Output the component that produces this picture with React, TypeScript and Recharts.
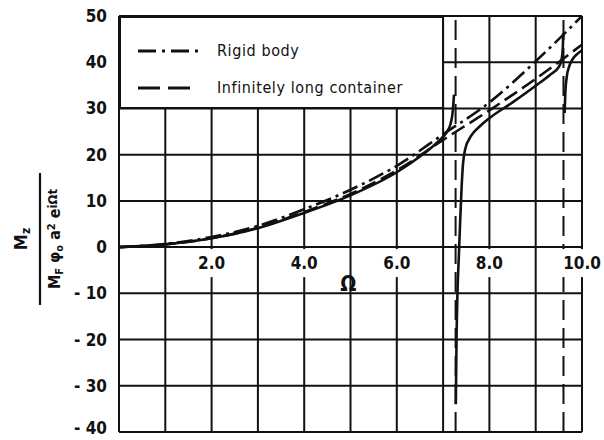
import { LineChart, Line, XAxis, YAxis, CartesianGrid, ReferenceLine, ReferenceDot, Legend } from 'recharts'

// values (Omega on x, moment ratio on y)
const rigidBody = [
  { x: 0, y: 0 }, { x: 1, y: 0.7 }, { x: 2, y: 2.2 }, { x: 3, y: 4.6 }, { x: 4, y: 8.2 },
  { x: 5, y: 12.4 }, { x: 6, y: 17.6 }, { x: 7, y: 24.4 }, { x: 8, y: 31.3 }, { x: 9, y: 40.2 },
  { x: 10, y: 50 },
]

const infiniteContainer = [
  { x: 0, y: 0 }, { x: 1, y: 0.6 }, { x: 2, y: 1.9 }, { x: 3, y: 4.2 }, { x: 4, y: 7.6 },
  { x: 5, y: 11.5 }, { x: 6, y: 16.6 }, { x: 7, y: 23.2 }, { x: 8, y: 29.6 }, { x: 9, y: 36.4 },
  { x: 10, y: 43.8 },
]

// solid curve, split at the two resonances
const finiteBranch1 = [
  { x: 0, y: 0 }, { x: 1, y: 0.6 }, { x: 2, y: 1.9 }, { x: 3, y: 4.1 }, { x: 4, y: 7.4 },
  { x: 5, y: 11.2 }, { x: 6, y: 16.2 }, { x: 6.5, y: 19.6 }, { x: 6.8, y: 22 }, { x: 7, y: 23.9 },
  { x: 7.1, y: 25.2 }, { x: 7.17, y: 27 }, { x: 7.21, y: 29.5 }, { x: 7.235, y: 33 },
]

const finiteBranch2 = [
  { x: 7.275, y: -34 }, { x: 7.29, y: -20 }, { x: 7.31, y: -10 }, { x: 7.34, y: -2 },
  { x: 7.37, y: 6 }, { x: 7.4, y: 13 }, { x: 7.43, y: 18 }, { x: 7.48, y: 21.3 },
  { x: 7.6, y: 24 }, { x: 7.8, y: 26.2 }, { x: 8, y: 27.9 }, { x: 8.5, y: 31.3 },
  { x: 9, y: 34.9 }, { x: 9.3, y: 37.2 }, { x: 9.5, y: 39 }, { x: 9.56, y: 40.6 },
  { x: 9.585, y: 43 }, { x: 9.595, y: 46.3 },
]

const finiteBranch3 = [
  { x: 9.625, y: 29 }, { x: 9.64, y: 33.5 }, { x: 9.67, y: 36.8 }, { x: 9.72, y: 39 },
  { x: 9.8, y: 40.7 }, { x: 9.9, y: 41.8 }, { x: 10, y: 42.6 },
]

const asymptotes = [7.27, 9.6]

const xGrid = [0, 1, 2, 3, 4, 5, 6, 7, 8, 9, 10]
const yTicks = [-40, -30, -20, -10, 0, 10, 20, 30, 40, 50]
const xLabels = [
  { x: 2, text: '2.0' }, { x: 4, text: '4.0' }, { x: 6, text: '6.0' },
  { x: 8, text: '8.0' }, { x: 10, text: '10.0' },
]

const INK = '#111'
const FONT = "'DejaVu Sans Condensed', 'DejaVu Sans', sans-serif"

const fmtY = (v: number) => (v < 0 ? `- ${-v}` : `${v}`)

function YTick({ x, y, payload }: any) {
  // the lowest label sits on the frame edge; nudge it up so it stays on the page
  const shift = payload.value === -40 ? -4 : 0
  return (
    <text x={x} y={y + shift} dy="0.355em" textAnchor="end" fontSize={17} fontWeight="bold" fontFamily={FONT} fill={INK}>
      {fmtY(payload.value)}
    </text>
  )
}

function XLabel({ cx, cy, text }: any) {
  const w = text.length * 10 + 6
  return (
    <g>
      <rect x={cx - w / 2} y={cy + 2} width={w} height={28} fill="#fff" />
      <text x={cx} y={cy + 22} textAnchor="middle" fontSize={17} fontWeight="bold" fontFamily={FONT} fill={INK}>
        {text}
      </text>
    </g>
  )
}

function OmegaLabel({ cx, cy }: any) {
  return (
    <text x={cx} y={cy + 7} textAnchor="middle" fontSize={21} fontWeight="bold" fontFamily={FONT} fill={INK}>
      Ω
    </text>
  )
}

function YLabel({ viewBox }: any) {
  const cy = viewBox.y + viewBox.height / 2 + 15
  return (
    <g transform={`translate(40,${cy}) rotate(-90)`} fill={INK} fontFamily={FONT} fontWeight="bold">
      <text x={0} y={-13} textAnchor="middle" fontSize={18}>
        M<tspan dy={3} fontSize={12}>z</tspan>
      </text>
      <line x1={-66} x2={66} y1={0} y2={0} stroke={INK} strokeWidth={2.2} />
      <text x={0} y={20} textAnchor="middle" fontSize={16}>
        M<tspan dy={3} fontSize={11}>F</tspan>
        <tspan dy={-3}> φ</tspan>
        <tspan dy={3} fontSize={11}>o</tspan>
        <tspan dy={-3}> a</tspan>
        <tspan dy={-5} fontSize={11}>2</tspan>
        <tspan dy={5}> e</tspan>
        <tspan dy={-3} fontSize={13}>iΩt</tspan>
      </text>
    </g>
  )
}

function LegendBox() {
  const rows = [
    { label: 'Rigid body', dash: '18 6 3 6' },
    { label: 'Infinitely long container', dash: '22 8' },
  ]
  return (
    <div style={{ width: 325, height: 93, background: '#fff', border: `2px solid ${INK}`, boxSizing: 'border-box', paddingTop: 14 }}>
      {rows.map((r) => (
        <div key={r.label} style={{ display: 'flex', alignItems: 'center', height: 37 }}>
          <svg width={96} height={10}>
            <line x1={17} x2={77} y1={5} y2={5} stroke={INK} strokeWidth={3} strokeDasharray={r.dash} />
          </svg>
          <span style={{ fontFamily: FONT, fontSize: 16, letterSpacing: 0.6, color: INK }}>{r.label}</span>
        </div>
      ))}
    </div>
  )
}

export default function App() {
  return (
    <div style={{ position: 'absolute', left: 0, top: 0, width: 604, height: 440, background: '#fff' }}>
      <LineChart width={604} height={440} margin={{ top: 16, right: 22, bottom: 8, left: 0 }}>
        <CartesianGrid stroke={INK} strokeWidth={2} verticalValues={xGrid} horizontalValues={yTicks} />
        <XAxis dataKey="x" type="number" domain={[0, 10]} ticks={xGrid} hide />
        <YAxis
          type="number"
          domain={[-40, 50]}
          ticks={yTicks}
          width={119}
          tickLine={false}
          tickMargin={6}
          axisLine={{ stroke: INK, strokeWidth: 2 }}
          tick={<YTick />}
          interval={0}
          label={{ content: YLabel }}
        />
        {asymptotes.map((a) => (
          <ReferenceLine key={a} x={a} stroke={INK} strokeWidth={2} strokeDasharray="20 8" />
        ))}
        <Line data={rigidBody} dataKey="y" type="monotone" stroke={INK} strokeWidth={2.6} strokeDasharray="16 5 3 5" dot={false} isAnimationActive={false} />
        <Line data={infiniteContainer} dataKey="y" type="monotone" stroke={INK} strokeWidth={2.6} strokeDasharray="15 6" dot={false} isAnimationActive={false} />
        <Line data={finiteBranch1} dataKey="y" type="monotone" stroke={INK} strokeWidth={2.6} dot={false} isAnimationActive={false} />
        <Line data={finiteBranch2} dataKey="y" type="monotone" stroke={INK} strokeWidth={2.6} dot={false} isAnimationActive={false} />
        <Line data={finiteBranch3} dataKey="y" type="monotone" stroke={INK} strokeWidth={2.6} dot={false} isAnimationActive={false} />
        {xLabels.map((l) => (
          <ReferenceDot key={l.text} x={l.x} y={0} r={0} shape={(p: any) => <XLabel {...p} text={l.text} />} />
        ))}
        <ReferenceDot x={4.95} y={-8} r={0} shape={(p: any) => <OmegaLabel {...p} />} />
        <Legend
          layout="horizontal"
          verticalAlign="middle"
          align="center"
          wrapperStyle={{ position: 'absolute', left: 119, top: 16, width: 325, height: 93 }}
          content={() => <LegendBox />}
        />
      </LineChart>
    </div>
  )
}
